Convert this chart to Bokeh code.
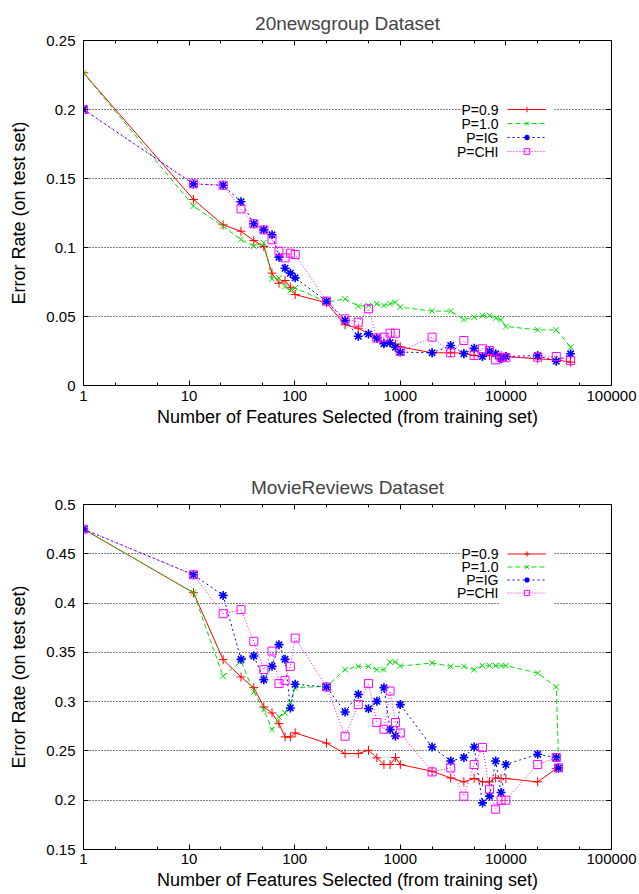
from bokeh.plotting import figure
from bokeh.models import (LogAxis, LinearAxis, FixedTicker, CustomJSTickFormatter,
                          Legend, LegendItem, Label, Range1d)
from bokeh.layouts import column
from bokeh.embed import file_html
from bokeh.resources import INLINE

FONT = "Liberation Sans"

# ---------------- data: 20newsgroup ----------------
news_x = [1, 11, 21, 31, 41, 51, 61, 71, 81, 91, 101,
          200, 300, 400, 500, 600, 700, 800, 900, 1000,
          2000, 3000, 4000, 5000, 6000, 7000, 8000, 9000, 10000,
          20000, 30000, 41000]
news_p09 = [0.2266, 0.1348, 0.1164, 0.1118, 0.105, 0.1007, 0.0814, 0.0741, 0.0761, 0.0712, 0.0659,
            0.060, 0.044, 0.0415, 0.0375, 0.035, 0.031, 0.031, 0.030, 0.028,
            0.0237, 0.0237, 0.0234, 0.0217, 0.021, 0.0217, 0.0225, 0.0217, 0.021,
            0.0193, 0.0186, 0.0169]
news_p10 = [0.2266, 0.130, 0.1154, 0.1058, 0.101, 0.1034, 0.0773, 0.078, 0.0717, 0.0688, 0.0708,
            0.0604, 0.0628, 0.0575, 0.058, 0.0592, 0.058, 0.0592, 0.0604, 0.0568,
            0.0539, 0.0539, 0.0478, 0.0495, 0.0507, 0.0507, 0.0488, 0.0476, 0.0428,
            0.0403, 0.0403, 0.0278]
news_pig = [0.200, 0.1461, 0.1451, 0.1331, 0.1172, 0.1128, 0.1092, 0.093, 0.085, 0.0814, 0.078,
            0.0611, 0.0471, 0.0357, 0.0374, 0.0343, 0.0302, 0.031, 0.0278, 0.0242,
            0.0237, 0.029, 0.023, 0.027, 0.021, 0.0249, 0.023, 0.0193, 0.021,
            0.0217, 0.0176, 0.023]
news_pchi = [0.200, 0.1461, 0.1451, 0.128, 0.1172, 0.1128, 0.1056, 0.0973, 0.0925, 0.0959, 0.0949,
             0.0611, 0.0483, 0.0459, 0.0556, 0.0343, 0.035, 0.0379, 0.0379, 0.0246,
             0.035, 0.0237, 0.0326, 0.0217, 0.0266, 0.0254, 0.0186, 0.0205, 0.0201,
             0.0205, 0.021, 0.018]

# ---------------- data: MovieReviews ----------------
movie_x = [1, 11, 21, 31, 41, 51, 61, 71, 81, 91, 101,
           200, 300, 400, 500, 600, 700, 800, 900, 1000,
           2000, 3000, 4000, 5000, 6000, 7000, 8000, 9000, 10000,
           20000, 30000, 31500]
movie_p09 = [0.475, 0.4105, 0.3426, 0.325, 0.3142, 0.2946, 0.2885, 0.2777, 0.2642, 0.2642, 0.2683,
             0.258, 0.2473, 0.2473, 0.2507, 0.243, 0.2362, 0.2362, 0.2433, 0.2362,
             0.2294, 0.2226, 0.2186, 0.222, 0.2186, 0.2186, 0.2226, 0.222, 0.222,
             0.2186, 0.232, 0.2331]
movie_p10 = [0.475, 0.4105, 0.3257, 0.3409, 0.3098, 0.2919, 0.2717, 0.2844, 0.2885, 0.2997, 0.3142,
             0.3155, 0.3325, 0.3358, 0.3358, 0.3325, 0.3325, 0.3402, 0.3402, 0.3361,
             0.3392, 0.3358, 0.3358, 0.3324, 0.3365, 0.3365, 0.3365, 0.3365, 0.3365,
             0.329, 0.3148, 0.2433]
movie_pig = [0.475, 0.4287, 0.4078, 0.3429, 0.3463, 0.3223, 0.3358, 0.3578, 0.3429, 0.2936, 0.3176,
             0.3149, 0.2895, 0.3074, 0.2929, 0.3003, 0.3142, 0.2716, 0.2652, 0.297,
             0.254, 0.2398, 0.2433, 0.254, 0.1973, 0.2041, 0.2398, 0.2078, 0.2362,
             0.2466, 0.2433, 0.2328]
movie_pchi = [0.475, 0.4287, 0.3892, 0.3933, 0.3612, 0.3325, 0.3513, 0.3183, 0.3216, 0.3358, 0.3645,
              0.3149, 0.2649, 0.297, 0.3183, 0.2788, 0.272, 0.3108, 0.2788, 0.2682,
              0.2287, 0.2328, 0.2041, 0.2362, 0.2534, 0.2112, 0.1909, 0.2, 0.2,
              0.2362, 0.2433, 0.2328]

series_names = ["P=0.9", "P=1.0", "P=IG", "P=CHI"]
news_ticks = [0, 0.05, 0.1, 0.15, 0.2, 0.25]
movie_ticks = [0.15, 0.2, 0.25, 0.3, 0.35, 0.4, 0.45, 0.5]
x_ticks = [1, 10, 100, 1000, 10000, 100000]
x_minor = [2, 5, 20, 50, 200, 500, 2000, 5000, 20000, 50000]

STYLES = [
    dict(color="#ff0000", dash="solid", marker="cross", size=9, lw=1.0),
    dict(color="#00e000", dash="5 3", marker="x", size=8, lw=1.0),
    dict(color="#0000ff", dash="2 3", marker="asterisk", size=9, lw=1.6),
    dict(color="#ff00ff", dash="1 2", marker="square", size=8, lw=1.0),
]


def make_chart(title, xs, ys_list, y_lo, y_hi, yticks, border_top, border_bottom,
               label_standoff, axlabel_standoff, row_h, legend_y):
    p = figure(x_axis_type="log", x_range=Range1d(1, 100000), y_range=Range1d(y_lo, y_hi),
               frame_width=528, frame_height=345,
               min_border_left=83, min_border_right=28,
               min_border_top=border_top, min_border_bottom=border_bottom,
               output_backend="svg", toolbar_location=None)
    p.background_fill_color = "white"
    p.border_fill_color = "white"
    p.outline_line_color = "black"
    p.outline_line_width = 1
    p.outline_line_alpha = 1

    p.title.text = title
    p.title.text_font = FONT
    p.title.text_font_size = "19px"
    p.title.text_font_style = "normal"
    p.title.align = "center"
    p.title.standoff = 14

    xt = FixedTicker(ticks=x_ticks, minor_ticks=x_minor)
    yt = FixedTicker(ticks=yticks, minor_ticks=[])

    xa = p.xaxis[0]
    xa.ticker = xt
    xa.formatter = CustomJSTickFormatter(code="return Math.round(tick).toString()")
    xa.axis_label = "Number of Features Selected (from training set)"
    ya = p.yaxis[0]
    ya.ticker = yt
    ya.formatter = CustomJSTickFormatter(code="return String(Math.round(tick*100)/100)")
    ya.axis_label = "Error Rate (on test set)"
    for ax in (xa, ya):
        ax.major_tick_in = 5
        ax.major_tick_out = 0
        ax.minor_tick_in = 3
        ax.minor_tick_out = 0
        ax.axis_line_color = "black"
        ax.major_tick_line_color = "black"
        ax.minor_tick_line_color = "black"
        ax.major_label_text_font = FONT
        ax.major_label_text_font_size = "15px"
        ax.major_label_text_color = "black"
        ax.axis_label_text_font = FONT
        ax.axis_label_text_font_size = "18px"
        ax.axis_label_text_font_style = "normal"
        ax.axis_label_text_color = "black"
    xa.major_label_standoff = label_standoff
    xa.axis_label_standoff = axlabel_standoff
    ya.major_label_standoff = 8
    ya.axis_label_standoff = 14

    top = LogAxis(ticker=xt)
    right = LinearAxis(ticker=yt)
    for ax in (top, right):
        ax.major_tick_in = 5
        ax.major_tick_out = 0
        ax.minor_tick_in = 3
        ax.minor_tick_out = 0
        ax.major_label_text_font_size = "1px"
        ax.major_label_text_alpha = 0
        ax.major_label_standoff = 0
        ax.axis_line_color = None
        ax.major_tick_line_color = "black"
        ax.minor_tick_line_color = "black"
    p.add_layout(top, "above")
    p.add_layout(right, "right")

    p.xgrid.visible = False
    p.ygrid.grid_line_color = "black"
    p.ygrid.grid_line_dash = "1 2"
    p.ygrid.grid_line_width = 1

    items = []
    for ys, st, name in zip(ys_list, STYLES, series_names):
        lr = p.line(xs, ys, line_color=st["color"], line_width=1, line_dash=st["dash"])
        sr = p.scatter(xs, ys, marker=st["marker"], size=st["size"], line_color=st["color"],
                       fill_color=None, line_width=st["lw"])
        items.append(LegendItem(label=" ", renderers=[lr, sr]))

    leg = Legend(items=items, location=(416, legend_y), orientation="vertical",
                 glyph_width=39, glyph_height=row_h, spacing=0, padding=8, margin=0,
                 label_width=0, label_standoff=0, label_text_font_size="10px",
                 background_fill_color="white", background_fill_alpha=1.0,
                 border_line_alpha=0)
    p.add_layout(leg)

    top_row = legend_y + 8 + 4 * row_h - row_h / 2.0
    for i, name in enumerate(series_names):
        p.add_layout(Label(x=415, y=top_row - i * row_h, x_units="screen", y_units="screen",
                           text=name, text_align="right", text_baseline="middle",
                           text_font=FONT, text_font_size="14px", text_color="black",
                           background_fill_color="white", background_fill_alpha=1.0))
    return p


p1 = make_chart("20newsgroup Dataset", news_x, [news_p09, news_p10, news_pig, news_pchi],
                0, 0.25, news_ticks, 40, 48, 5, 3, 14, 219)
p2 = make_chart("MovieReviews Dataset", movie_x, [movie_p09, movie_p10, movie_pig, movie_pchi],
                0.15, 0.5, movie_ticks, 71, 45, 4, 3, 13, 242)

layout = column(p1, p2, spacing=0)
open("out.html", "w").write(file_html(layout, INLINE))
